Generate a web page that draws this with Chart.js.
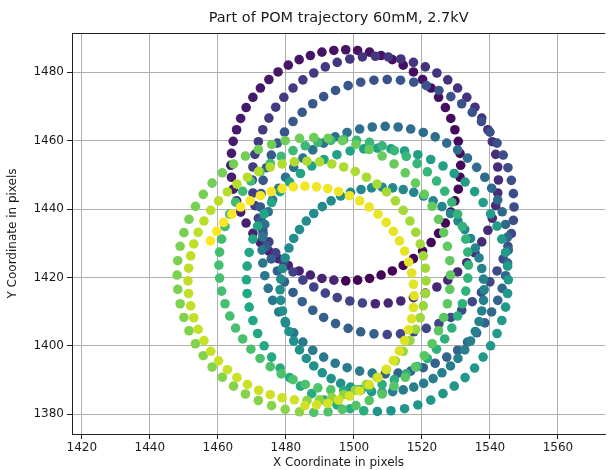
<!DOCTYPE html>
<html>
<head>
<meta charset="utf-8">
<title>Part of POM trajectory 60mM, 2.7kV</title>
<script src="https://cdn.jsdelivr.net/npm/chart.js@4.4.1/dist/chart.umd.min.js"></script>
<style>
  html, body { margin: 0; padding: 0; background: #fff; }
  canvas { display: block; }
</style>
</head>
<body>
<canvas id="trajetoria" width="610" height="470"></canvas>
<script>
const xTicks = [1420, 1440, 1460, 1480, 1500, 1520, 1540, 1560];
const yTicks = [1380, 1400, 1420, 1440, 1460, 1480];

// trajectory, loop by loop, in time order
const loop1X = [1497.6, 1501.1, 1504.6, 1508.0, 1511.3, 1514.5, 1517.5, 1520.2, 1522.7, 1524.9, 1526.9, 1528.5, 1529.7, 1530.7, 1531.2,
  1531.4, 1531.2, 1530.7, 1529.7, 1528.5, 1526.9, 1524.9, 1522.7, 1520.2, 1517.5, 1514.5, 1511.3, 1508.0, 1504.6, 1501.1,
  1497.6, 1494.1, 1490.6, 1487.2, 1483.9, 1480.7, 1477.7, 1475.0, 1472.5, 1470.3, 1468.3, 1466.7, 1465.5, 1464.5, 1464.0,
  1463.8, 1464.0, 1464.5, 1465.5, 1466.7, 1468.3, 1470.3, 1472.5, 1475.0, 1477.7, 1480.7, 1483.9, 1487.2, 1490.6, 1494.1];
const loop1Y = [1419.0, 1419.2, 1419.7, 1420.7, 1421.9, 1423.5, 1425.5, 1427.7, 1430.2, 1432.9, 1435.9, 1439.1, 1442.4, 1445.8, 1449.3,
  1452.8, 1456.3, 1459.8, 1463.2, 1466.5, 1469.7, 1472.7, 1475.4, 1477.9, 1480.1, 1482.1, 1483.7, 1484.9, 1485.9, 1486.4,
  1486.6, 1486.4, 1485.9, 1484.9, 1483.7, 1482.1, 1480.1, 1477.9, 1475.4, 1472.7, 1469.7, 1466.5, 1463.2, 1459.8, 1456.3,
  1452.8, 1449.3, 1445.8, 1442.4, 1439.1, 1435.9, 1432.9, 1430.2, 1427.7, 1425.5, 1423.5, 1421.9, 1420.7, 1419.7, 1419.2];

const loop2X = [1506.3, 1510.1, 1513.8, 1517.5, 1521.0, 1524.4, 1527.6, 1530.5, 1533.2, 1535.6, 1537.6, 1539.4, 1540.7, 1541.7, 1542.3,
  1542.5, 1542.3, 1541.7, 1540.7, 1539.4, 1537.6, 1535.6, 1533.2, 1530.5, 1527.6, 1524.4, 1521.0, 1517.5, 1513.8, 1510.1,
  1506.3, 1502.5, 1498.8, 1495.1, 1491.6, 1488.2, 1485.0, 1482.1, 1479.4, 1477.0, 1475.0, 1473.2, 1471.9, 1470.9, 1470.3,
  1470.1, 1470.3, 1470.9, 1471.9, 1473.2, 1475.0, 1477.0, 1479.4, 1482.1, 1485.0, 1488.2, 1491.6, 1495.1, 1498.8, 1502.5];
const loop2Y = [1412.3, 1412.5, 1413.1, 1414.1, 1415.4, 1417.2, 1419.2, 1421.6, 1424.3, 1427.2, 1430.4, 1433.8, 1437.3, 1441.0, 1444.7,
  1448.5, 1452.3, 1456.0, 1459.7, 1463.2, 1466.6, 1469.8, 1472.7, 1475.4, 1477.8, 1479.8, 1481.6, 1482.9, 1483.9, 1484.5,
  1484.7, 1484.5, 1483.9, 1482.9, 1481.6, 1479.8, 1477.8, 1475.4, 1472.7, 1469.8, 1466.6, 1463.2, 1459.7, 1456.0, 1452.3,
  1448.5, 1444.7, 1441.0, 1437.3, 1433.8, 1430.4, 1427.2, 1424.3, 1421.6, 1419.2, 1417.2, 1415.4, 1414.1, 1413.1, 1412.5];

const loop3X = [1509.8, 1513.7, 1517.6, 1521.3, 1525.0, 1528.5, 1531.7, 1534.8, 1537.5, 1540.0, 1542.1, 1543.9, 1545.3, 1546.3, 1546.9,
  1547.1, 1546.9, 1546.3, 1545.3, 1543.9, 1542.1, 1540.0, 1537.5, 1534.8, 1531.7, 1528.5, 1525.0, 1521.3, 1517.6, 1513.7,
  1509.8, 1505.9, 1502.0, 1498.3, 1494.6, 1491.1, 1487.9, 1484.8, 1482.1, 1479.6, 1477.5, 1475.7, 1474.3, 1473.3, 1472.7,
  1472.5, 1472.7, 1473.3, 1474.3, 1475.7, 1477.5, 1479.6, 1482.1, 1484.8, 1487.9, 1491.1, 1494.6, 1498.3, 1502.0, 1505.9];
const loop3Y = [1403.3, 1403.5, 1404.1, 1405.1, 1406.5, 1408.3, 1410.4, 1412.9, 1415.6, 1418.7, 1421.9, 1425.4, 1429.1, 1432.8, 1436.7,
  1440.6, 1444.5, 1448.4, 1452.1, 1455.8, 1459.3, 1462.5, 1465.6, 1468.3, 1470.8, 1472.9, 1474.7, 1476.1, 1477.1, 1477.7,
  1477.9, 1477.7, 1477.1, 1476.1, 1474.7, 1472.9, 1470.8, 1468.3, 1465.6, 1462.5, 1459.3, 1455.8, 1452.1, 1448.4, 1444.5,
  1440.6, 1436.7, 1432.8, 1429.1, 1425.4, 1421.9, 1418.7, 1415.6, 1412.9, 1410.4, 1408.3, 1406.5, 1405.1, 1404.1, 1403.5];

const loop4X = [1509.2, 1513.0, 1516.7, 1520.4, 1523.9, 1527.3, 1530.5, 1533.4, 1536.1, 1538.5, 1540.5, 1542.3, 1543.6, 1544.6, 1545.2,
  1545.4, 1545.2, 1544.6, 1543.6, 1542.3, 1540.5, 1538.5, 1536.1, 1533.4, 1530.5, 1527.3, 1523.9, 1520.4, 1516.7, 1513.0,
  1509.2, 1505.4, 1501.7, 1498.0, 1494.5, 1491.1, 1487.9, 1485.0, 1482.3, 1479.9, 1477.9, 1476.1, 1474.8, 1473.8, 1473.2,
  1473.0, 1473.2, 1473.8, 1474.8, 1476.1, 1477.9, 1479.9, 1482.3, 1485.0, 1487.9, 1491.1, 1494.5, 1498.0, 1501.7, 1505.4];
const loop4Y = [1391.8, 1392.0, 1392.6, 1393.6, 1394.9, 1396.7, 1398.7, 1401.1, 1403.8, 1406.7, 1409.9, 1413.3, 1416.8, 1420.5, 1424.2,
  1428.0, 1431.8, 1435.5, 1439.2, 1442.7, 1446.1, 1449.3, 1452.2, 1454.9, 1457.3, 1459.3, 1461.1, 1462.4, 1463.4, 1464.0,
  1464.2, 1464.0, 1463.4, 1462.4, 1461.1, 1459.3, 1457.3, 1454.9, 1452.2, 1449.3, 1446.1, 1442.7, 1439.2, 1435.5, 1431.8,
  1428.0, 1424.2, 1420.5, 1416.8, 1413.3, 1409.9, 1406.7, 1403.8, 1401.1, 1398.7, 1396.7, 1394.9, 1393.6, 1392.6, 1392.0];

const loop5X = [1508.3, 1511.4, 1514.5, 1517.6, 1520.5, 1523.3, 1525.9, 1528.4, 1530.6, 1532.6, 1534.3, 1535.7, 1536.8, 1537.6, 1538.1,
  1538.3, 1538.1, 1537.6, 1536.8, 1535.7, 1534.3, 1532.6, 1530.6, 1528.4, 1525.9, 1523.3, 1520.5, 1517.6, 1514.5, 1511.4,
  1508.3, 1505.2, 1502.1, 1499.0, 1496.1, 1493.3, 1490.7, 1488.2, 1486.0, 1484.0, 1482.3, 1480.9, 1479.8, 1479.0, 1478.5,
  1478.3, 1478.5, 1479.0, 1479.8, 1480.9, 1482.3, 1484.0, 1486.0, 1488.2, 1490.7, 1493.3, 1496.1, 1499.0, 1502.1, 1505.2];
const loop5Y = [1386.4, 1386.6, 1387.1, 1387.9, 1389.0, 1390.4, 1392.1, 1394.1, 1396.3, 1398.8, 1401.4, 1404.2, 1407.1, 1410.2, 1413.3,
  1416.4, 1419.5, 1422.6, 1425.7, 1428.6, 1431.4, 1434.0, 1436.5, 1438.7, 1440.7, 1442.4, 1443.8, 1444.9, 1445.7, 1446.2,
  1446.4, 1446.2, 1445.7, 1444.9, 1443.8, 1442.4, 1440.7, 1438.7, 1436.5, 1434.0, 1431.4, 1428.6, 1425.7, 1422.6, 1419.5,
  1416.4, 1413.3, 1410.2, 1407.1, 1404.2, 1401.4, 1398.8, 1396.3, 1394.1, 1392.1, 1390.4, 1389.0, 1387.9, 1387.1, 1386.6];

const loop6X = [1506.9, 1510.9, 1514.9, 1518.8, 1522.6, 1526.2, 1529.5, 1532.7, 1535.5, 1538.0, 1540.2, 1542.1, 1543.5, 1544.6, 1545.2,
  1545.4, 1545.2, 1544.6, 1543.5, 1542.1, 1540.2, 1538.0, 1535.5, 1532.7, 1529.5, 1526.2, 1522.6, 1518.8, 1514.9, 1510.9,
  1506.9, 1502.9, 1498.9, 1495.0, 1491.2, 1487.6, 1484.3, 1481.1, 1478.3, 1475.8, 1473.6, 1471.7, 1470.3, 1469.2, 1468.6,
  1468.4, 1468.6, 1469.2, 1470.3, 1471.7, 1473.6, 1475.8, 1478.3, 1481.1, 1484.3, 1487.6, 1491.2, 1495.0, 1498.9, 1502.9];
const loop6Y = [1380.8, 1381.0, 1381.6, 1382.7, 1384.1, 1386.0, 1388.2, 1390.7, 1393.5, 1396.7, 1400.0, 1403.6, 1407.4, 1411.3, 1415.3,
  1419.3, 1423.3, 1427.3, 1431.2, 1435.0, 1438.6, 1441.9, 1445.1, 1447.9, 1450.4, 1452.6, 1454.5, 1455.9, 1457.0, 1457.6,
  1457.8, 1457.6, 1457.0, 1455.9, 1454.5, 1452.6, 1450.4, 1447.9, 1445.1, 1441.9, 1438.6, 1435.0, 1431.2, 1427.3, 1423.3,
  1419.3, 1415.3, 1411.3, 1407.4, 1403.6, 1400.0, 1396.7, 1393.5, 1390.7, 1388.2, 1386.0, 1384.1, 1382.7, 1381.6, 1381.0];

const loop7X = [1497.0, 1500.8, 1504.6, 1508.3, 1511.9, 1515.4, 1518.6, 1521.6, 1524.3, 1526.7, 1528.8, 1530.5, 1531.9, 1532.9, 1533.5,
  1533.7, 1533.5, 1532.9, 1531.9, 1530.5, 1528.8, 1526.7, 1524.3, 1521.6, 1518.6, 1515.4, 1511.9, 1508.3, 1504.6, 1500.8,
  1497.0, 1493.2, 1489.4, 1485.7, 1482.1, 1478.6, 1475.4, 1472.4, 1469.7, 1467.3, 1465.2, 1463.5, 1462.1, 1461.1, 1460.5,
  1460.3, 1460.5, 1461.1, 1462.1, 1463.5, 1465.2, 1467.3, 1469.7, 1472.4, 1475.4, 1478.6, 1482.1, 1485.7, 1489.4, 1493.2];
const loop7Y = [1386.9, 1387.1, 1387.7, 1388.7, 1390.1, 1391.8, 1393.9, 1396.3, 1399.0, 1402.0, 1405.2, 1408.7, 1412.3, 1416.0, 1419.8,
  1423.6, 1427.4, 1431.2, 1434.9, 1438.5, 1442.0, 1445.2, 1448.2, 1450.9, 1453.3, 1455.4, 1457.1, 1458.5, 1459.5, 1460.1,
  1460.3, 1460.1, 1459.5, 1458.5, 1457.1, 1455.4, 1453.3, 1450.9, 1448.2, 1445.2, 1442.0, 1438.5, 1434.9, 1431.2, 1427.4,
  1423.6, 1419.8, 1416.0, 1412.3, 1408.7, 1405.2, 1402.0, 1399.0, 1396.3, 1393.9, 1391.8, 1390.1, 1388.7, 1387.7, 1387.1];

const loop8X = [1488.2, 1492.4, 1496.6, 1500.6, 1504.5, 1508.3, 1511.8, 1515.1, 1518.1, 1520.7, 1523.0, 1524.9, 1526.4, 1527.5, 1528.2,
  1528.4, 1528.2, 1527.5, 1526.4, 1524.9, 1523.0, 1520.7, 1518.1, 1515.1, 1511.8, 1508.3, 1504.5, 1500.6, 1496.6, 1492.4,
  1488.2, 1484.0, 1479.8, 1475.8, 1471.9, 1468.1, 1464.6, 1461.3, 1458.3, 1455.7, 1453.4, 1451.5, 1450.0, 1448.9, 1448.2,
  1448.0, 1448.2, 1448.9, 1450.0, 1451.5, 1453.4, 1455.7, 1458.3, 1461.3, 1464.6, 1468.1, 1471.9, 1475.8, 1479.8, 1484.0];
const loop8Y = [1380.5, 1380.7, 1381.4, 1382.5, 1384.0, 1385.9, 1388.2, 1390.8, 1393.8, 1397.1, 1400.6, 1404.4, 1408.3, 1412.3, 1416.5,
  1420.7, 1424.9, 1429.1, 1433.1, 1437.0, 1440.8, 1444.3, 1447.6, 1450.6, 1453.2, 1455.5, 1457.4, 1458.9, 1460.0, 1460.7,
  1460.9, 1460.7, 1460.0, 1458.9, 1457.4, 1455.5, 1453.2, 1450.6, 1447.6, 1444.3, 1440.8, 1437.0, 1433.1, 1429.1, 1424.9,
  1420.7, 1416.5, 1412.3, 1408.3, 1404.4, 1400.6, 1397.1, 1393.8, 1390.8, 1388.2, 1385.9, 1384.0, 1382.5, 1381.4, 1380.7];

const loop9X = [1486.2, 1489.9, 1493.5, 1497.0, 1500.4, 1503.7, 1506.8, 1509.6, 1512.2, 1514.5, 1516.5, 1518.2, 1519.5, 1520.4, 1521.0,
  1521.2, 1521.0, 1520.4, 1519.5, 1518.2, 1516.5, 1514.5, 1512.2, 1509.6, 1506.8, 1503.7, 1500.4, 1497.0, 1493.5, 1489.9,
  1486.2, 1482.5, 1478.9, 1475.4, 1472.0, 1468.7, 1465.6, 1462.8, 1460.2, 1457.9, 1455.9, 1454.2, 1452.9, 1452.0, 1451.4,
  1451.2, 1451.4, 1452.0, 1452.9, 1454.2, 1455.9, 1457.9, 1460.2, 1462.8, 1465.6, 1468.7, 1472.0, 1475.4, 1478.9, 1482.5];
const loop9Y = [1384.0, 1384.2, 1384.8, 1385.7, 1387.0, 1388.7, 1390.7, 1393.0, 1395.6, 1398.4, 1401.5, 1404.8, 1408.2, 1411.7, 1415.3,
  1419.0, 1422.7, 1426.3, 1429.8, 1433.2, 1436.5, 1439.6, 1442.4, 1445.0, 1447.3, 1449.3, 1451.0, 1452.3, 1453.2, 1453.8,
  1454.0, 1453.8, 1453.2, 1452.3, 1451.0, 1449.3, 1447.3, 1445.0, 1442.4, 1439.6, 1436.5, 1433.2, 1429.8, 1426.3, 1422.7,
  1419.0, 1415.3, 1411.7, 1408.2, 1404.8, 1401.5, 1398.4, 1395.6, 1393.0, 1390.7, 1388.7, 1387.0, 1385.7, 1384.8, 1384.2];

const loop10X = [1485.6, 1489.0, 1492.3, 1495.5, 1498.7, 1501.7, 1504.5, 1507.1, 1509.5, 1511.6, 1513.4, 1514.9, 1516.1, 1517.0, 1517.5,
  1517.7, 1517.5, 1517.0, 1516.1, 1514.9, 1513.4, 1511.6, 1509.5, 1507.1, 1504.5, 1501.7, 1498.7, 1495.5, 1492.3, 1489.0,
  1485.6, 1482.2, 1478.9, 1475.7, 1472.5, 1469.5, 1466.7, 1464.1, 1461.7, 1459.6, 1457.8];
const loop10Y = [1382.5, 1382.7, 1383.2, 1384.1, 1385.3, 1386.8, 1388.6, 1390.7, 1393.1, 1395.7, 1398.5, 1401.5, 1404.7, 1407.9, 1411.2,
  1414.6, 1418.0, 1421.3, 1424.5, 1427.7, 1430.7, 1433.5, 1436.1, 1438.5, 1440.6, 1442.4, 1443.9, 1445.1, 1446.0, 1446.5,
  1446.7, 1446.5, 1446.0, 1445.1, 1443.9, 1442.4, 1440.6, 1438.5, 1436.1, 1433.5, 1430.7];

const todosX = [].concat(loop1X, loop2X, loop3X, loop4X, loop5X, loop6X, loop7X, loop8X, loop9X, loop10X);
const todosY = [].concat(loop1Y, loop2Y, loop3Y, loop4Y, loop5Y, loop6Y, loop7Y, loop8Y, loop9Y, loop10Y);
const pontos = todosX.map((x, i) => ({ x: x, y: todosY[i] }));

// viridis colour by time
const viridis = ['#440154', '#482475', '#414487', '#355f8d', '#2a788e', '#21918c',
  '#22a884', '#44bf70', '#7ad151', '#bddf26', '#fde725'];

function hexParaRgb(h) {
  return [parseInt(h.slice(1, 3), 16), parseInt(h.slice(3, 5), 16), parseInt(h.slice(5, 7), 16)];
}

function corViridis(t) {
  const pos = t * (viridis.length - 1);
  const i = Math.min(Math.floor(pos), viridis.length - 2);
  const f = pos - i;
  const a = hexParaRgb(viridis[i]);
  const b = hexParaRgb(viridis[i + 1]);
  const c = a.map((v, k) => Math.round(v + (b[k] - v) * f));
  return 'rgb(' + c.join(',') + ')';
}

const cores = pontos.map((p, i) => corViridis(i / (pontos.length - 1)));

const fonte = { family: 'DejaVu Sans', size: 12 };
const corTexto = '#1a1a1a';

// top spine, like the matplotlib frame
const moldura = {
  id: 'moldura',
  afterDraw(chart) {
    const { ctx, chartArea: a } = chart;
    ctx.save();
    ctx.strokeStyle = '#222';
    ctx.lineWidth = 1;
    ctx.beginPath();
    ctx.moveTo(a.left, Math.round(a.top) + 0.5);
    ctx.lineTo(a.right, Math.round(a.top) + 0.5);
    ctx.stroke();
    ctx.restore();
  }
};

const ctx = document.getElementById('trajetoria').getContext('2d');

const config = {
  type: 'scatter',
  data: {
    datasets: [{
      data: pontos,
      backgroundColor: cores,
      borderWidth: 0,
      pointRadius: 4.8,
      pointHoverRadius: 4.8
    }]
  },
  options: {
    responsive: false,
    animation: false,
    events: [],
    layout: { padding: 0 },
    plugins: {
      legend: { display: false },
      tooltip: { enabled: false },
      title: {
        display: true,
        text: 'Part of POM trajectory 60mM, 2.7kV',
        color: corTexto,
        font: { family: 'DejaVu Sans', size: 14.5, weight: 'normal' },
        padding: { top: 10, bottom: 5.6 },
        fullSize: false
      }
    },
    scales: {
      x: {
        type: 'linear',
        min: 1417.1,
        max: 1573.9,
        afterBuildTicks: s => { s.ticks = xTicks.map(v => ({ value: v })); },
        afterFit: s => { s.height = 36; },
        grid: { color: '#b0b0b0', lineWidth: 1, tickLength: 5, tickColor: '#222' },
        border: { color: '#222', width: 1 },
        ticks: { color: corTexto, font: fonte, padding: 2, maxRotation: 0, autoSkip: false, callback: v => String(v) },
        title: { display: true, text: 'X Coordinate in pixels', color: corTexto, font: fonte, padding: { top: 0, bottom: 0 } }
      },
      y: {
        type: 'linear',
        min: 1374.2,
        max: 1491.5,
        afterBuildTicks: s => { s.ticks = yTicks.map(v => ({ value: v })); },
        afterFit: s => { s.width = 72; },
        grid: { color: '#b0b0b0', lineWidth: 1, tickLength: 5, tickColor: '#222' },
        border: { color: '#222', width: 1 },
        ticks: { color: corTexto, font: fonte, padding: 3, autoSkip: false, callback: v => String(v) },
        title: { display: true, text: 'Y Coordinate in pixels', color: corTexto, font: fonte, padding: { top: 6, bottom: 0 } }
      }
    }
  },
  plugins: [moldura]
};

const meuGrafico = new Chart(ctx, config);
</script>
</body>
</html>
